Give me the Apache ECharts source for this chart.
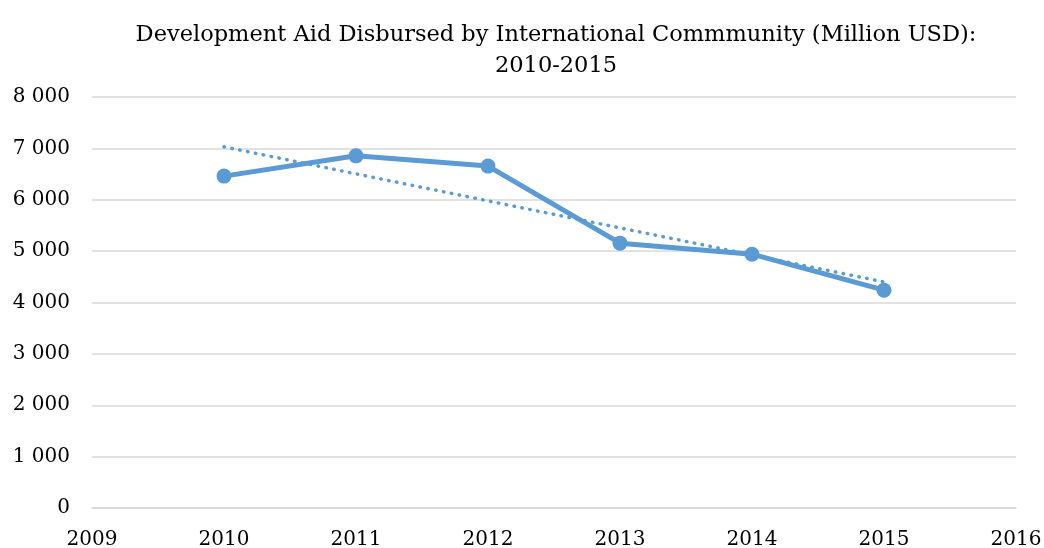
<!DOCTYPE html>
<html>
<head>
<meta charset="utf-8">
<script src="https://cdn.jsdelivr.net/npm/echarts@6/dist/echarts.min.js"></script>
<style>
  html, body { margin: 0; padding: 0; background: #ffffff; }
  #chart { width: 1044px; height: 548px; }
</style>
</head>
<body>
<div id="chart"></div>
<script>
// Aid disbursed per year (million USD)
const years = [2010, 2011, 2012, 2013, 2014, 2015];
const aidValues = [6460, 6855, 6655, 5155, 4940, 4240];

// Linear trend line end points
const trendYears = [2010, 2015];
const trendValues = [7030, 4400];

// Axis ranges
const xMin = 2009, xMax = 2016, xStep = 1;
const yMin = 0, yMax = 8000, yStep = 1000;

const titleText = 'Development Aid Disbursed by International Commmunity (Million USD):\n2010-2015';
const seriesColor = '#5B9BD5';
const fontFamily = '"DejaVu Serif", "Liberation Serif", serif';

const fmtThousands = v => {
  const s = String(Math.round(v));
  return s.replace(/\B(?=(\d{3})+(?!\d))/g, ' ');
};

const chart = echarts.init(document.getElementById('chart'), null, { renderer: 'canvas' });
chart.setOption({
  animation: false,
  backgroundColor: '#ffffff',
  title: {
    text: titleText,
    left: 551,
    textAlign: 'center',
    top: 15,
    textStyle: {
      fontFamily: fontFamily,
      fontWeight: 'normal',
      fontSize: 22.5,
      lineHeight: 31,
      color: '#000000'
    }
  },
  grid: { left: 92, right: 28, top: 97, bottom: 40, containLabel: false, outerBoundsMode: 'none' },
  xAxis: {
    type: 'value',
    min: xMin, max: xMax, interval: xStep,
    axisLine: { show: true, lineStyle: { color: '#D9D9D9', width: 1.5 } },
    axisTick: { show: false },
    splitLine: { show: false },
    axisLabel: {
      fontFamily: fontFamily, fontSize: 20, color: '#000000', margin: 22,
      formatter: v => String(v)
    }
  },
  yAxis: {
    type: 'value',
    min: yMin, max: yMax, interval: yStep,
    axisLine: { show: false },
    axisTick: { show: false },
    splitLine: { show: true, lineStyle: { color: '#D9D9D9', width: 1.5 } },
    axisLabel: {
      fontFamily: fontFamily, fontSize: 20, color: '#000000', margin: 22,
      formatter: v => fmtThousands(v)
    }
  },
  series: [
    {
      name: 'Aid',
      type: 'line',
      data: years.map((y, i) => [y, aidValues[i]]),
      symbol: 'circle',
      symbolSize: 15,
      lineStyle: { color: seriesColor, width: 5 },
      itemStyle: { color: seriesColor },
      z: 3
    },
    {
      name: 'Trend',
      type: 'line',
      data: trendYears.map((y, i) => [y, trendValues[i]]),
      symbol: 'none',
      lineStyle: { color: seriesColor, width: 3.5, type: [0.5, 7.5], cap: 'round' },
      z: 2
    }
  ]
});
</script>
</body>
</html>
